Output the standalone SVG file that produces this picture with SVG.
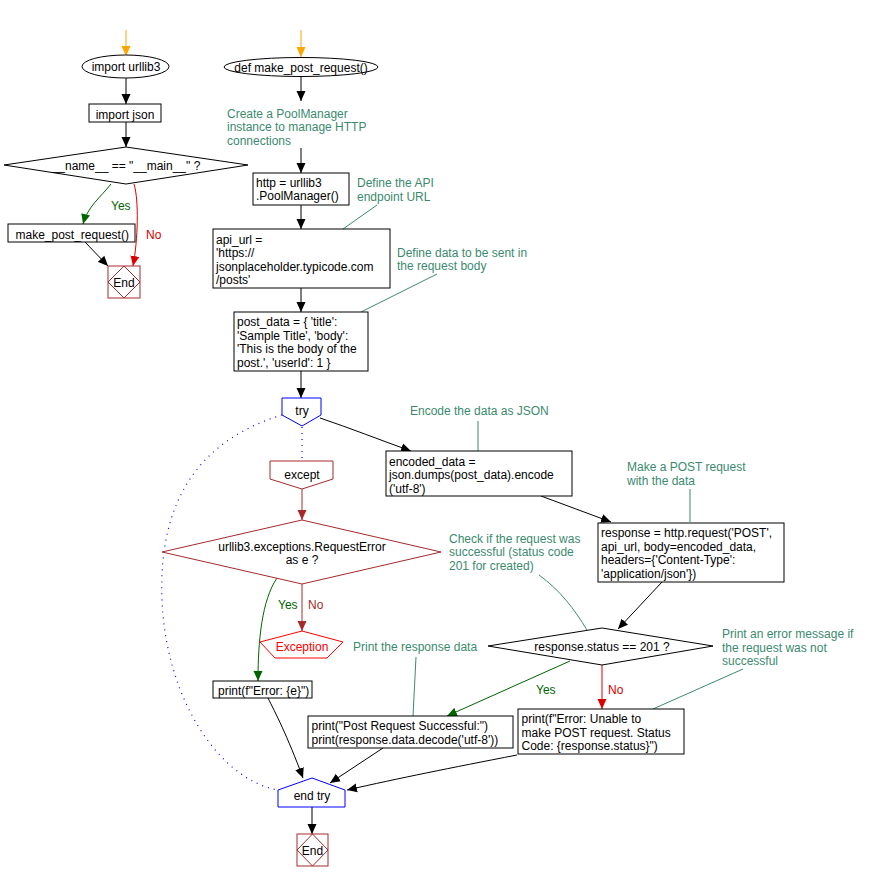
<svg xmlns="http://www.w3.org/2000/svg" width="873" height="881" viewBox="0 0 873 881">
<defs>
<marker id="ab" markerWidth="10" markerHeight="10" refX="10" refY="5" orient="auto" markerUnits="userSpaceOnUse"><path d="M0,0.5 L10,5 L0,9.5 z" fill="#000"/></marker>
<marker id="ao" markerWidth="10" markerHeight="10" refX="10" refY="5" orient="auto" markerUnits="userSpaceOnUse"><path d="M0,0.5 L10,5 L0,9.5 z" fill="#FFA500"/></marker>
<marker id="ag" markerWidth="10" markerHeight="10" refX="10" refY="5" orient="auto" markerUnits="userSpaceOnUse"><path d="M0,0.5 L10,5 L0,9.5 z" fill="#006400"/></marker>
<marker id="ar" markerWidth="10" markerHeight="10" refX="10" refY="5" orient="auto" markerUnits="userSpaceOnUse"><path d="M0,0.5 L10,5 L0,9.5 z" fill="#DD0000"/></marker>
<marker id="an" markerWidth="10" markerHeight="10" refX="10" refY="5" orient="auto" markerUnits="userSpaceOnUse"><path d="M0,0.5 L10,5 L0,9.5 z" fill="#A52A2A"/></marker>
</defs>
<style>
text{font-family:"Liberation Sans",Arial,sans-serif;font-size:12px;fill:#000}
.c{text-anchor:middle}
.cm{fill:#3B8A6E}
.box{fill:#fff;stroke:#000;stroke-width:1}
.e{fill:none;stroke:#000;stroke-width:1;marker-end:url(#ab)}
.eo{fill:none;stroke:#FFA500;stroke-width:1;marker-end:url(#ao)}
.eg{fill:none;stroke:#006400;stroke-width:1;marker-end:url(#ag)}
.er{fill:none;stroke:#DD0000;stroke-width:1;marker-end:url(#ar)}
.en{fill:none;stroke:#A52A2A;stroke-width:1;marker-end:url(#an)}
.cl{fill:none;stroke:#3B8A6E;stroke-width:1}
.dot{fill:none;stroke:#0000FF;stroke-width:1.2;stroke-dasharray:1,5}
.blue{fill:#fff;stroke:#0000FF;stroke-width:1}
.brown{fill:#fff;stroke:#A52A2A;stroke-width:1}
</style>

<g id="connectors">
<path class="eo" d="M126,30 L126,56"/>
<path class="e" d="M126,78 L126,104"/>
<path class="e" d="M126,122 L126,147"/>
<path class="eg" d="M111,184 C100,198 88,206 83,224"/>
<path class="er" d="M134,184 C139,200 138,240 133,266"/>
<path class="e" d="M85,242 L108,266"/>
<path class="eo" d="M301,30 L301,57"/>
<path class="e" d="M301,76 L301,101"/>
<path class="e" d="M301,148 L301,173"/>
<path class="e" d="M301,205 L301,229"/>
<path class="e" d="M301,288 L301,312"/>
<path class="e" d="M301,371 L301,398"/>
<path class="e" d="M320,418 C350,428 380,440 411,451"/>
<path class="dot" d="M302,427 L302,461"/>
<path class="en" d="M302,489 L302,520"/>
<path class="dot" d="M282,415 C200,440 158,500 162,600 C166,700 220,780 278,790"/>
<path class="eg" d="M277,578 C262,600 258,640 258,681"/>
<path class="en" d="M302,584 L302,631"/>
<path class="e" d="M268,698 C275,712 287,735 303,778"/>
<path class="e" d="M383,748 L330,783"/>
<path class="e" d="M517,755 C450,768 400,778 347,790"/>
<path class="e" d="M541,496 L611,522"/>
<path class="e" d="M662,582 L618,629"/>
<path class="eg" d="M570,661 L447,716"/>
<path class="er" d="M602,665 L602,709"/>
<path class="cl" d="M343,229 L377,205"/>
<path class="cl" d="M361,312 L437,274"/>
<path class="cl" d="M478,421 L478,451"/>
<path class="cl" d="M690,489 L690,522"/>
<path class="cl" d="M539,575 C560,590 575,610 587,630"/>
<path class="cl" d="M416,657 L413,716"/>
<path class="cl" d="M653,709 L743,669"/>
<text x="111" y="209.5" style="fill:#006400">Yes</text>
<text x="146" y="238.5" style="fill:#DD0000">No</text>
<text x="278" y="608.5" style="fill:#006400">Yes</text>
<text x="308" y="608.5" style="fill:#A52A2A">No</text>
<text x="536" y="693.5" style="fill:#006400">Yes</text>
<text x="608" y="693.5" style="fill:#DD0000">No</text>
</g>

<g id="import_urllib3"><ellipse class="box" cx="125.5" cy="66.5" rx="43.5" ry="11.5"/><text class="c" x="126" y="71">import urllib3</text></g>
<g id="import_json"><rect class="box" x="89" y="104" width="72" height="18"/><text class="c" x="125" y="118.5">import json</text></g>
<g id="main_check"><polygon class="box" points="126,147 248,165 126,184 4,165"/><text class="c" x="126" y="169.5">__name__ == "__main__" ?</text></g>
<g id="call_main"><rect class="box" x="8" y="224" width="127" height="18"/><text x="15.5" y="238.5">make_post_request()</text></g>
<g id="end1"><rect fill="#fff" stroke="#A52A2A" x="108" y="266" width="32" height="32"/><polygon fill="none" stroke="#A52A2A" points="124,266 140,282 124,298 108,282"/><text class="c" x="124" y="286.5">End</text></g>

<g id="def_func"><ellipse class="box" cx="301" cy="67" rx="77" ry="9.5"/><text class="c" x="301" y="71.5">def make_post_request()</text></g>
<g id="c_pool"><text class="cm" x="227" y="117.5">Create a PoolManager</text><text class="cm" x="227" y="131">instance to manage HTTP</text><text class="cm" x="227" y="144.5">connections</text></g>
<g id="http"><rect class="box" x="253" y="173" width="96" height="32"/><text x="256" y="186.5">http = urllib3</text><text x="256" y="200">.PoolManager()</text></g>
<g id="c_api"><text class="cm" x="357" y="187">Define the API</text><text class="cm" x="357" y="200.5">endpoint URL</text></g>
<g id="api_url"><rect class="box" x="213" y="229" width="177" height="59"/><text x="216" y="243.5">api_url =</text><text x="216" y="257">'https://</text><text x="216" y="270.5">jsonplaceholder.typicode.com</text><text x="216" y="284">/posts'</text></g>
<g id="c_data"><text class="cm" x="397" y="256.5">Define data to be sent in</text><text class="cm" x="397" y="270">the request body</text></g>
<g id="post_data"><rect class="box" x="234" y="312" width="134" height="59"/><text x="237" y="326">post_data = { 'title':</text><text x="237" y="339.5">'Sample Title', 'body':</text><text x="237" y="353">'This is the body of the</text><text x="237" y="366.5">post.', 'userId': 1 }</text></g>
<g id="try"><polygon class="blue" points="282,398 321,398 321,415 302,426 282,415"/><text class="c" x="302" y="415">try</text></g>
<g id="except"><polygon class="brown" points="270,461 333,461 333,479 302,489 270,479"/><text class="c" x="302" y="478.5">except</text></g>
<g id="err_check"><polygon class="brown" points="302,520 441,552 302,584 162,552"/><text class="c" x="302" y="550.5">urllib3.exceptions.RequestError</text><text class="c" x="302" y="564">as e ?</text></g>
<g id="exception"><polygon fill="#fff" stroke="#FF0000" points="302,631 343,642 327,658 275,658 260,642"/><text class="c" x="302" y="651" style="fill:#FF0000">Exception</text></g>
<g id="print_e"><rect class="box" x="213" y="681" width="99" height="17"/><text x="218" y="694.5">print(f"Error: {e}")</text></g>

<g id="c_encode"><text class="cm" x="410" y="415">Encode the data as JSON</text></g>
<g id="encoded"><rect class="box" x="386" y="451" width="186" height="45"/><text x="389" y="465.5">encoded_data =</text><text x="389" y="479">json.dumps(post_data).encode</text><text x="389" y="492.5">('utf-8')</text></g>
<g id="c_post"><text class="cm" x="627" y="471">Make a POST request</text><text class="cm" x="627" y="484.5">with the data</text></g>
<g id="response"><rect class="box" x="598" y="523" width="186" height="59"/><text x="601" y="537">response = http.request('POST',</text><text x="601" y="550.5">api_url, body=encoded_data,</text><text x="601" y="564">headers={'Content-Type':</text><text x="601" y="577.5">'application/json'})</text></g>
<g id="c_check"><text class="cm" x="449" y="542.5">Check if the request was</text><text class="cm" x="449" y="556">successful (status code</text><text class="cm" x="449" y="569.5">201 for created)</text></g>
<g id="status_check"><polygon class="box" points="602,628 713,646 602,665 488,646"/><text class="c" x="602" y="651">response.status == 201 ?</text></g>
<g id="c_print"><text class="cm" x="353" y="651">Print the response data</text></g>
<g id="c_err"><text class="cm" x="722" y="638">Print an error message if</text><text class="cm" x="722" y="651.5">the request was not</text><text class="cm" x="722" y="665">successful</text></g>
<g id="print_ok"><rect class="box" x="308" y="716" width="205" height="32"/><text x="311.5" y="730">print("Post Request Successful:")</text><text x="311.5" y="743.5">print(response.data.decode('utf-8'))</text></g>
<g id="print_fail"><rect class="box" x="518" y="709" width="166" height="45"/><text x="521.5" y="722.5">print(f"Error: Unable to</text><text x="521.5" y="736.5">make POST request. Status</text><text x="521.5" y="750">Code: {response.status}")</text></g>
<g id="end_try"><polygon class="blue" points="312,778 345,790 345,807 278,807 278,790"/><text class="c" x="312" y="799.5">end try</text></g>
<g id="end2"><path class="e" d="M312,807 L312,834"/><rect fill="#fff" stroke="#A52A2A" x="297" y="834" width="31" height="32"/><polygon fill="none" stroke="#A52A2A" points="312.5,834 328,850 312.5,866 297,850"/><text class="c" x="312.5" y="855">End</text></g>
</svg>
